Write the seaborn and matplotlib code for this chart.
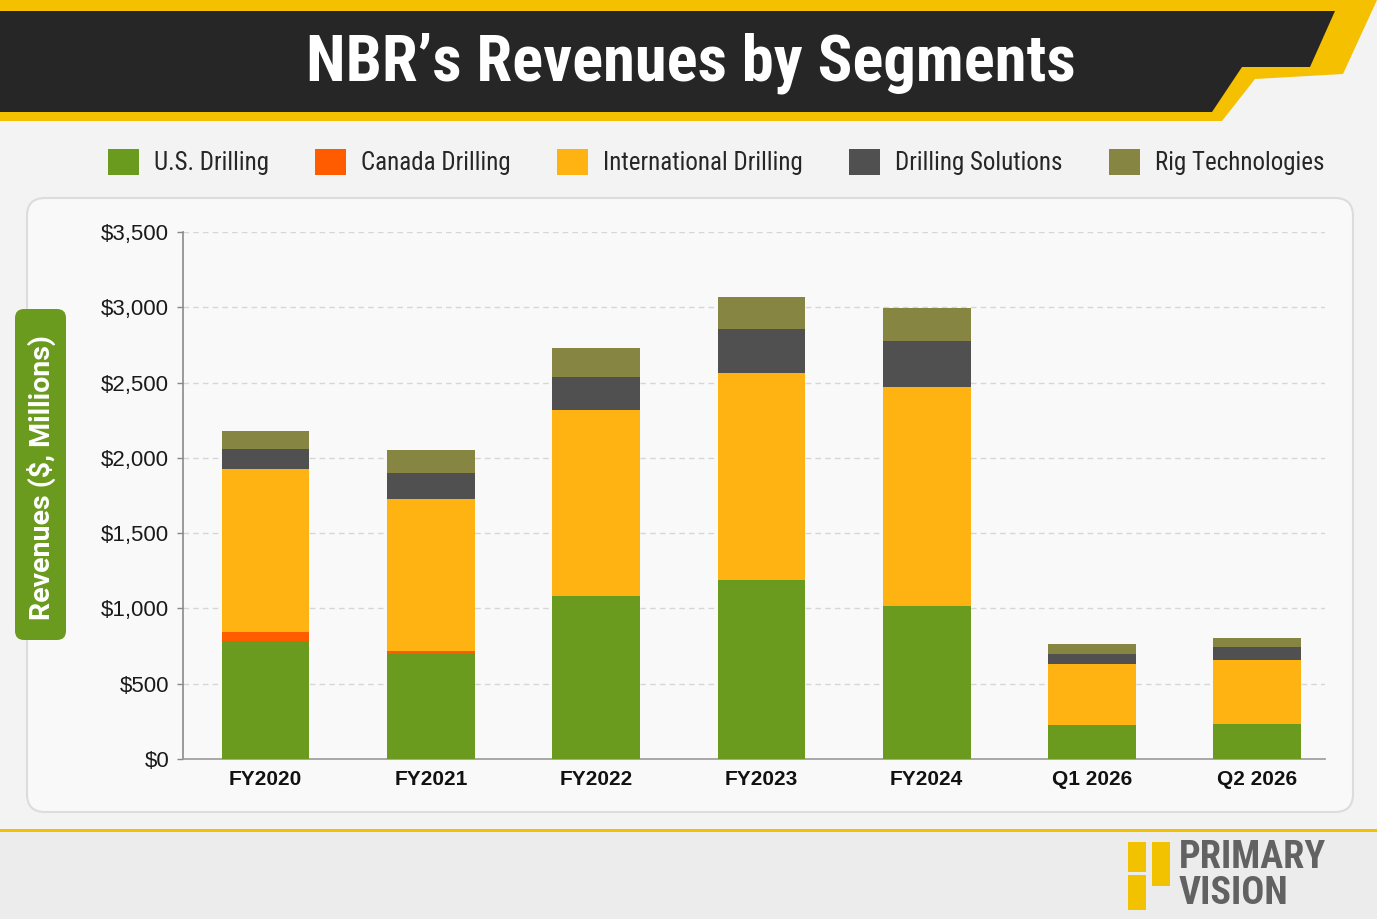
import matplotlib
matplotlib.use("Agg")
import matplotlib.pyplot as plt
import matplotlib.transforms as mtransforms
from matplotlib.patches import FancyBboxPatch, Polygon, Rectangle, Patch
import seaborn as sns
import numpy as np
import pandas as pd

# ---------------- data ----------------
categories = ["FY2020", "FY2021", "FY2022", "FY2023", "FY2024", "Q1 2026", "Q2 2026"]
us_drilling = [782, 695, 1080, 1190, 1015, 225, 234]
canada_drilling = [63, 23, 0, 0, 0, 0, 0]
international_drilling = [1082, 1006, 1235, 1374, 1457, 406, 424]
drilling_solutions = [133, 177, 224, 293, 306, 69, 87]
rig_technologies = [118, 153, 193, 212, 215, 62, 60]
segments = ["U.S. Drilling", "Canada Drilling", "International Drilling",
            "Drilling Solutions", "Rig Technologies"]
y_ticks = [0, 500, 1000, 1500, 2000, 2500, 3000, 3500]
y_tick_labels = ["$0", "$500", "$1,000", "$1,500", "$2,000", "$2,500", "$3,000", "$3,500"]

colors = ["#6b9b1e", "#ff5c00", "#ffb313", "#505050", "#868642"]

W, H = 1377, 919
sns.set_theme(style="white")
plt.rcParams["font.family"] = ["Roboto Condensed", "Roboto", "DejaVu Sans"]

COND = ["Roboto Condensed", "DejaVu Sans"]
ROBO = ["Roboto", "DejaVu Sans"]
ARIAL = ["Liberation Sans", "DejaVu Sans"]

fig = plt.figure(figsize=(W / 100, H / 100), dpi=100)
fig.patch.set_facecolor("#f3f3f3")
ident = mtransforms.IdentityTransform()


def add_poly(pts, color, z=0):
    p = Polygon([(x, H - y) for x, y in pts], closed=True, facecolor=color,
                edgecolor="none", transform=ident, zorder=z)
    fig.add_artist(p)


def add_rect(x0, y0, x1, y1, color, z=0, round_size=0, ec="none", lw=0):
    if round_size:
        p = FancyBboxPatch((x0, H - y1), x1 - x0, y1 - y0,
                           boxstyle=f"round,pad=0,rounding_size={round_size}",
                           facecolor=color, edgecolor=ec, linewidth=lw,
                           transform=ident, zorder=z)
    else:
        p = Rectangle((x0, H - y1), x1 - x0, y1 - y0, facecolor=color,
                      edgecolor=ec, linewidth=lw, transform=ident, zorder=z)
    fig.add_artist(p)


# bottom band
add_rect(0, 831, W, H, "#ececec", z=0)
add_rect(0, 829, W, 832, "#f5c000", z=1)

# header banner
add_poly([(0, 0), (1377, 0), (1343, 74), (1255, 79), (1222, 121), (0, 121)], "#f5c000", z=1)
add_poly([(0, 11), (1335, 11), (1310, 67), (1242, 67), (1212, 112), (0, 112)], "#262626", z=2)
fig.text(691 / W, 1 - 63 / H, "NBR\u2019s Revenues by Segments", color="white",
         fontsize=46.5, fontweight="bold", family=COND, ha="center", va="center", zorder=5)

# chart panel
add_rect(27, 198, 1353, 812, "#f9f9f9", z=1, round_size=18, ec="#dcdcdc", lw=1.5)

# y label box
add_rect(15, 309, 66, 640, "#6b9b1e", z=3, round_size=9)
fig.text(41 / W, 1 - 478 / H, "Revenues ($, Millions)", color="white", rotation=90,
         fontsize=20.5, fontweight="bold", family=ROBO, ha="center", va="center", zorder=5)

# axes
ax = fig.add_axes([183 / W, 1 - 759 / H, (1325 - 183) / W, (759 - 232) / H], zorder=4)
ax.set_facecolor("#f9f9f9")

df = pd.DataFrame({
    "Period": categories,
    segments[0]: us_drilling,
    segments[1]: canada_drilling,
    segments[2]: international_drilling,
    segments[3]: drilling_solutions,
    segments[4]: rig_technologies,
})
cum = df[segments].cumsum(axis=1)
for i in reversed(range(len(segments))):
    sns.barplot(x=df["Period"], y=cum[segments[i]], order=categories, color=colors[i],
                saturation=1, width=0.53, linewidth=0, ax=ax, zorder=3)

ax.set_ylim(0, 3500)
ax.set_xlim(-0.5, 6.41)
ax.set_yticks(y_ticks)
ax.set_yticklabels(y_tick_labels, fontsize=16, color="#1a1a1a", family=ARIAL)
ax.set_xticks(range(len(categories)))
ax.set_xticklabels(categories, fontsize=15, fontweight="bold", color="#111111", family=ARIAL)
ax.set_xlabel("")
ax.set_ylabel("")
ax.tick_params(axis="y", length=4, width=1, color="#888888", pad=6, left=True)
ax.tick_params(axis="x", length=0, pad=8)
for y in y_ticks[1:]:
    ax.axhline(y, color="#d6d6d6", linestyle=(0, (4, 3)), linewidth=1, zorder=0)
for s in ["top", "right"]:
    ax.spines[s].set_visible(False)
ax.spines["left"].set_color("#8a8a8a")
ax.spines["bottom"].set_color("#9a9a9a")
ax.spines["left"].set_linewidth(1.2)
ax.spines["bottom"].set_linewidth(1.2)

# legend
handles = [Patch(facecolor=c, edgecolor="none") for c in colors]
fig.legend(handles, segments, loc="center", bbox_to_anchor=(716 / W, 1 - 162 / H),
           ncol=5, frameon=False, handlelength=1.24, handleheight=1.24,
           handletextpad=0.6, columnspacing=1.85,
           prop={"size": 18, "family": COND, "weight": "normal"})

# logo
add_rect(1128, 842, 1146, 872, "#f2c200", z=3)
add_rect(1128, 875, 1146, 910, "#f2c200", z=3)
add_rect(1152, 842, 1170, 886, "#f2c200", z=3)
fig.text(1179 / W, 1 - 858 / H, "PRIMARY", color="#626262", fontsize=27.5,
         fontweight="bold", family=COND, ha="left", va="center")
fig.text(1179 / W, 1 - 893 / H, "VISION", color="#626262", fontsize=27.5,
         fontweight="bold", family=COND, ha="left", va="center")

fig.savefig("out.png", dpi=100, facecolor=fig.get_facecolor())
